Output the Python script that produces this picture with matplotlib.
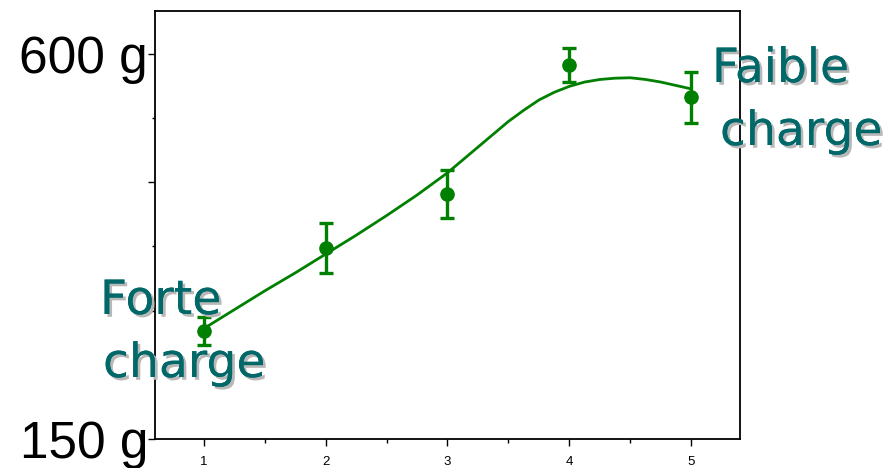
import matplotlib
matplotlib.use('Agg')
import matplotlib.pyplot as plt
import matplotlib.patheffects as pe
from matplotlib.ticker import FixedLocator

# measured points (grams) with error bars
x_pts = [1, 2, 3, 4, 5]
y_pts = [276, 373, 436, 587, 549]
y_err = [16, 29, 28, 20, 30]

# fitted curve
x_fit = [1.0, 1.25, 1.5, 1.75, 2.0, 2.25, 2.5, 2.75, 3.0, 3.125, 3.25, 3.375, 3.5, 3.625,
         3.75, 3.875, 4.0, 4.125, 4.25, 4.375, 4.5, 4.625, 4.75, 4.875, 5.0]
y_fit = [279, 301, 323, 344, 366, 388, 411, 435, 461, 476, 491, 506, 521, 534,
         546, 555, 562, 567, 570, 571.5, 572, 570, 567, 563, 559]

y_major = [150, 300, 450, 600]
y_minor = [225, 375, 525]
y_labels = ['150 g', '', '', '600 g']

W, H = 883, 468
fig = plt.figure(figsize=(W / 100, H / 100), dpi=100)
ax = fig.add_axes([155 / W, 29 / H, (740 - 155) / W, (439 - 11) / H])

green = '#008000'
ax.plot(x_fit, y_fit, color=green, linewidth=2, zorder=2, solid_joinstyle='round')
ax.errorbar(x_pts, y_pts, yerr=y_err, fmt='o', color=green, markersize=9.5,
            elinewidth=2.4, capsize=5, capthick=2.4, zorder=3)

ax.set_xlim(0.6, 5.4)
ax.set_ylim(150, 650)

ax.xaxis.set_major_locator(FixedLocator(x_pts))
ax.xaxis.set_minor_locator(FixedLocator([1.5, 2.5, 3.5, 4.5]))
ax.yaxis.set_major_locator(FixedLocator(y_major))
ax.yaxis.set_minor_locator(FixedLocator(y_minor))
ax.set_yticklabels(y_labels, fontsize=37, family='Liberation Sans')
ax.tick_params(axis='y', which='major', length=5, width=1, pad=0)
ax.tick_params(axis='y', which='minor', length=2.2, width=1)
ax.tick_params(axis='x', which='major', length=5, width=1, pad=7, labelsize=9.5)
ax.tick_params(axis='x', which='minor', length=3, width=1)
for lbl in ax.get_xticklabels():
    lbl.set_family('Liberation Sans')
for s in ax.spines.values():
    s.set_linewidth(1.3)

teal = '#006868'
shadow = [pe.withSimplePatchShadow(offset=(2, -2), shadow_rgbFace='#b8b8b8', alpha=1.0), pe.Normal()]


def label(txt, px, py):
    fig.text(px / W, 1 - py / H, txt, fontsize=34, color=teal, ha='left', va='baseline',
             family='DejaVu Sans', path_effects=shadow, zorder=5)


label('Forte', 100, 314)
label('charge', 103, 377)
label('Faible', 712, 82)
label('charge', 720, 145)

fig.savefig('out.png', dpi=100)
